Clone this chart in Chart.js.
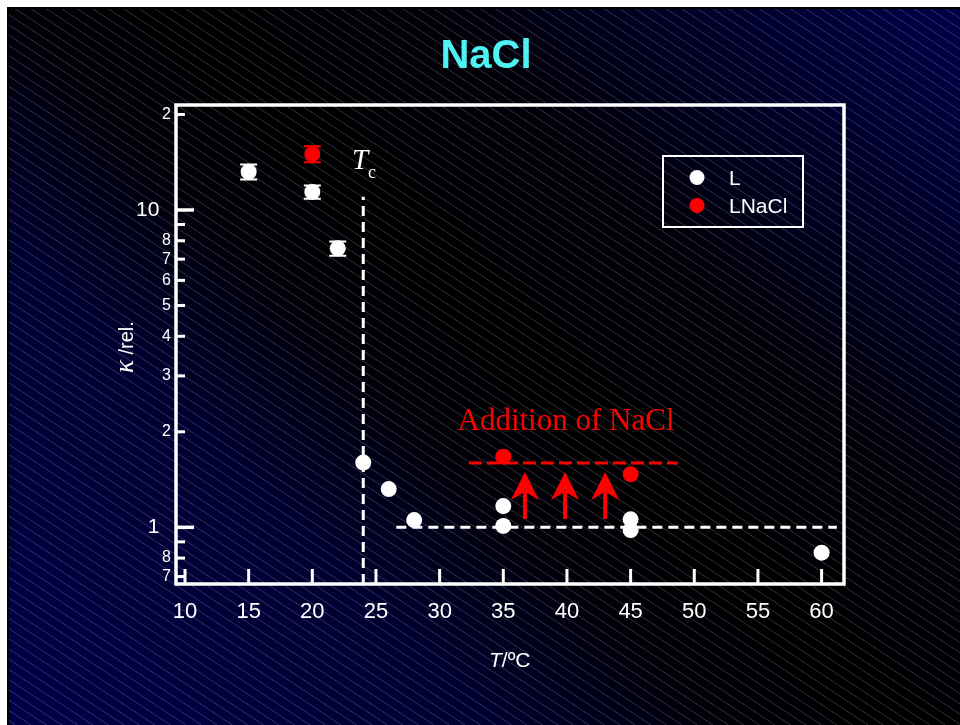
<!DOCTYPE html>
<html>
<head>
<meta charset="utf-8">
<title>NaCl</title>
<script src="https://cdn.jsdelivr.net/npm/chart.js@4/dist/chart.umd.min.js"></script>
<style>
  html, body { margin: 0; padding: 0; background: #ffffff; }
  canvas { display: block; }
</style>
</head>
<body>
<canvas id="chart" width="960" height="725"></canvas>
<script>
// Relative conductivity of L and LNaCl versus temperature
const temperaturesL = [15, 20, 22, 24, 26, 28, 35, 35, 45, 45, 60];
const kappaL        = [13.2, 11.4, 7.57, 1.60, 1.32, 1.054, 1.167, 1.01, 1.06, 0.98, 0.832];
const errorL        = [0.72, 0.55, 0.39, 0, 0, 0, 0, 0, 0, 0, 0];

const temperaturesNaCl = [20, 35, 45];
const kappaNaCl        = [15.0, 1.67, 1.47];
const errorNaCl        = [0.87, 0, 0];

const xTicks = [10, 15, 20, 25, 30, 35, 40, 45, 50, 55, 60];
const yTicks = [0.7, 0.8, 0.9, 1, 2, 3, 4, 5, 6, 7, 8, 9, 10, 20];
const yTickLabels = ['7', '8', '', '1', '2', '3', '4', '5', '6', '7', '8', '', '10', '2'];
const yMajorTicks = [1, 10];

// Guide lines
const tcTemperature = 24;
const tcLineTop = 11.0;
const baseLineL = [26.6, 61.2];
const baseLevelL = 1;
const baseLineNaCl = [32.3, 48.7];
const baseLevelNaCl = 1.595;
const arrowTemperatures = [36.7, 39.85, 43.0];
const arrowFrom = 1.062;
const arrowTo = 1.494;

const X_MIN = 9.293, X_MAX = 61.76;
const Y_MIN = 0.6628, Y_MAX = 21.42;

const SANS = '"Liberation Sans", Arial, Helvetica, sans-serif';
const SERIF = '"Liberation Serif", "Times New Roman", serif';

const toPoints = (xs, ys) => xs.map((x, i) => ({ x: x, y: ys[i] }));

const decor = {
  id: 'decor',
  beforeDraw(chart) {
    const { ctx, width, height } = chart;
    ctx.save();
    ctx.fillStyle = '#ffffff';
    ctx.fillRect(0, 0, width, height);
    const x0 = 7, y0 = 7;
    // diagonal navy / black / navy gradient
    const g = ctx.createLinearGradient(0, 718, 835.5, -117.5);
    g.addColorStop(0.00, '#000048');
    g.addColorStop(0.29, '#000030');
    g.addColorStop(0.37, '#000018');
    g.addColorStop(0.43, '#000006');
    g.addColorStop(0.53, '#000000');
    g.addColorStop(0.69, '#000008');
    g.addColorStop(0.77, '#00001a');
    g.addColorStop(1.00, '#000048');
    ctx.fillStyle = g;
    ctx.fillRect(x0, y0, width - x0, height - y0);
    // hatching
    ctx.beginPath();
    ctx.rect(x0, y0, width - x0, height - y0);
    ctx.clip();
    ctx.strokeStyle = 'rgba(190,190,230,0.26)';
    ctx.lineWidth = 1;
    const slope = 0.66, step = 15.5;
    const run = height / slope;
    ctx.beginPath();
    for (let s = -run; s < width; s += step) {
      ctx.moveTo(s, 0);
      ctx.lineTo(s + run, height);
    }
    ctx.stroke();
    ctx.fillStyle = '#000000';
    ctx.fillRect(x0, y0, width - x0, 2);
    ctx.fillRect(x0, y0, 2, height - y0);
    ctx.restore();
  },
  afterDatasetsDraw(chart) {
    const { ctx } = chart;
    const xs = chart.scales.x, ys = chart.scales.y;
    ctx.save();
    chart.data.datasets.forEach((ds) => {
      if (!ds.err) return;
      ctx.strokeStyle = ds.borderColor;
      ctx.lineWidth = 2;
      ds.data.forEach((p, i) => {
        const e = ds.err[i];
        if (!e) return;
        const px = xs.getPixelForValue(p.x);
        const top = ys.getPixelForValue(p.y + e);
        const bot = ys.getPixelForValue(p.y - e);
        ctx.beginPath();
        ctx.moveTo(px, top); ctx.lineTo(px, bot);
        ctx.moveTo(px - 8.5, top); ctx.lineTo(px + 8.5, top);
        ctx.moveTo(px - 8.5, bot); ctx.lineTo(px + 8.5, bot);
        ctx.stroke();
      });
    });
    ctx.restore();
  },
  afterDraw(chart) {
    const { ctx, chartArea: a } = chart;
    const xs = chart.scales.x, ys = chart.scales.y;
    ctx.save();

    // frame
    ctx.strokeStyle = '#ffffff';
    ctx.lineWidth = 3.5;
    ctx.strokeRect(a.left, a.top, a.right - a.left, a.bottom - a.top);

    // inward tick marks
    ys.ticks.forEach((t) => {
      const py = ys.getPixelForValue(t.value);
      const major = yMajorTicks.includes(t.value);
      ctx.lineWidth = major ? 3.5 : 3;
      ctx.beginPath();
      ctx.moveTo(a.left, py);
      ctx.lineTo(a.left + (major ? 18 : 9), py);
      ctx.stroke();
    });
    xs.ticks.forEach((t) => {
      const px = xs.getPixelForValue(t.value);
      ctx.lineWidth = 3;
      ctx.beginPath();
      ctx.moveTo(px, a.bottom);
      ctx.lineTo(px, a.bottom - 15);
      ctx.stroke();
    });

    // arrows
    ctx.fillStyle = '#ff0000';
    arrowTemperatures.forEach((t) => {
      const px = xs.getPixelForValue(t);
      const tip = ys.getPixelForValue(arrowTo);
      const base = ys.getPixelForValue(arrowFrom);
      ctx.beginPath();
      ctx.moveTo(px, tip);
      ctx.lineTo(px + 14, tip + 28);
      ctx.lineTo(px + 2, tip + 21);
      ctx.lineTo(px + 2, base);
      ctx.lineTo(px - 2, base);
      ctx.lineTo(px - 2, tip + 21);
      ctx.lineTo(px - 14, tip + 28);
      ctx.closePath();
      ctx.fill();
    });

    // annotations
    ctx.textBaseline = 'alphabetic';
    ctx.fillStyle = '#ff0000';
    ctx.font = '31px ' + SERIF;
    ctx.textAlign = 'center';
    ctx.fillText('Addition of NaCl', 566, 430);

    ctx.fillStyle = '#ffffff';
    ctx.textAlign = 'left';
    ctx.font = 'italic 29px ' + SERIF;
    ctx.fillText('T', 352, 169);
    ctx.font = '18px ' + SERIF;
    ctx.fillText('c', 368, 178);

    // title
    ctx.fillStyle = '#4ef2f2';
    ctx.font = 'bold 40px ' + SANS;
    ctx.textAlign = 'center';
    ctx.fillText('NaCl', 486, 68);

    // axis titles
    ctx.fillStyle = '#ffffff';
    ctx.textAlign = 'left';
    ctx.font = 'italic 21px ' + SANS;
    let xpos = 489;
    ctx.fillText('T', xpos, 667);
    xpos += ctx.measureText('T').width;
    ctx.font = '21px ' + SANS;
    ctx.fillText('/ºC', xpos, 667);

    ctx.save();
    ctx.translate(133, 373);
    ctx.rotate(-Math.PI / 2);
    ctx.font = 'italic 27px ' + SERIF;
    ctx.fillText('κ', 0, 0);
    let off = ctx.measureText('κ').width;
    ctx.font = '20px ' + SANS;
    ctx.fillText(' /rel.', off, 0);
    ctx.restore();

    // legend
    ctx.strokeStyle = '#ffffff';
    ctx.lineWidth = 2;
    ctx.strokeRect(663, 156, 140, 71);
    ctx.font = '21px ' + SANS;
    ctx.textBaseline = 'alphabetic';
    const rows = [177.5, 205.5];
    chart.data.datasets.slice(0, 2).forEach((ds, i) => {
      ctx.fillStyle = ds.backgroundColor;
      ctx.beginPath();
      ctx.arc(697, rows[i], 7.5, 0, Math.PI * 2);
      ctx.fill();
      ctx.fillStyle = '#ffffff';
      ctx.fillText(ds.label, 729, rows[i] + 7.5);
    });

    ctx.restore();
  }
};

new Chart(document.getElementById('chart'), {
  type: 'scatter',
  data: {
    datasets: [
      {
        label: 'L',
        data: toPoints(temperaturesL, kappaL),
        err: errorL,
        backgroundColor: '#ffffff',
        borderColor: '#ffffff',
        borderWidth: 0,
        pointRadius: 8,
        pointHoverRadius: 8
      },
      {
        label: 'LNaCl',
        data: toPoints(temperaturesNaCl, kappaNaCl),
        err: errorNaCl,
        backgroundColor: '#ff0000',
        borderColor: '#ff0000',
        borderWidth: 0,
        pointRadius: 8,
        pointHoverRadius: 8
      },
      {
        label: 'Tc',
        data: [{ x: tcTemperature, y: Y_MIN }, { x: tcTemperature, y: tcLineTop }],
        showLine: true,
        borderColor: '#ffffff',
        borderWidth: 3,
        borderDash: [10, 6],
        pointRadius: 0
      },
      {
        label: 'base L',
        data: [{ x: baseLineL[0], y: baseLevelL }, { x: baseLineL[1], y: baseLevelL }],
        showLine: true,
        borderColor: '#ffffff',
        borderWidth: 3,
        borderDash: [10, 6],
        pointRadius: 0
      },
      {
        label: 'base LNaCl',
        data: [{ x: baseLineNaCl[0], y: baseLevelNaCl }, { x: baseLineNaCl[1], y: baseLevelNaCl }],
        showLine: true,
        borderColor: '#ff0000',
        borderWidth: 3,
        borderDash: [13, 5],
        pointRadius: 0
      }
    ]
  },
  options: {
    responsive: false,
    animation: false,
    events: [],
    layout: { padding: { left: 0, top: 105, right: 116, bottom: 0 } },
    plugins: { legend: { display: false }, tooltip: { enabled: false } },
    scales: {
      x: {
        type: 'linear',
        min: X_MIN,
        max: X_MAX,
        afterBuildTicks: (s) => { s.ticks = xTicks.map((v) => ({ value: v })); },
        afterFit: (s) => { s.height = 141; },
        grid: { display: false, drawTicks: false },
        border: { display: false },
        ticks: {
          autoSkip: false,
          maxRotation: 0,
          padding: 15,
          color: '#ffffff',
          font: { family: SANS, size: 22 },
          callback: (v) => String(v)
        }
      },
      y: {
        type: 'logarithmic',
        min: Y_MIN,
        max: Y_MAX,
        afterBuildTicks: (s) => { s.ticks = yTicks.map((v) => ({ value: v })); },
        afterFit: (s) => { s.width = 176; },
        grid: { display: false, drawTicks: false },
        border: { display: false },
        ticks: {
          autoSkip: false,
          padding: 5,
          color: '#ffffff',
          font: (c) => ({
            family: SANS,
            size: (c.tick && yMajorTicks.includes(c.tick.value)) ? 21 : 16
          }),
          callback: (v) => {
            const i = yTicks.indexOf(v);
            if (i < 0) return '';
            return yMajorTicks.includes(v) ? yTickLabels[i] + '  ' : yTickLabels[i];
          }
        }
      }
    }
  },
  plugins: [decor]
});
</script>
</body>
</html>
